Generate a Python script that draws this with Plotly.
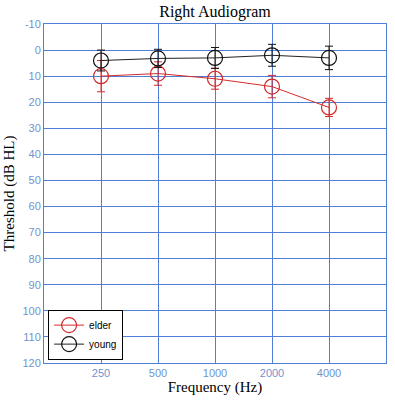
import plotly.graph_objects as go

freq_labels = ["250", "500", "1000", "2000", "4000"]
freq_pos = [1, 2, 3, 4, 5]
elder = [10, 9, 11, 14, 22]
elder_err = [6, 4.5, 4, 4.3, 3.5]
young = [4, 3.2, 3, 2, 3]
young_err = [4, 3.5, 4, 4.2, 4.5]
y_ticks = list(range(-10, 130, 10))
y_labels = [str(v).replace("\u2212", "-") for v in y_ticks]

red = "#d42a2a"
grid = "#4f7fd6"
tickc = "#7193d0"

fig = go.Figure()
fig.add_trace(go.Scatter(
    x=freq_pos, y=elder, name="elder", mode="lines+markers",
    line=dict(color=red, width=1),
    marker=dict(symbol="circle-open", size=15, color=red, line=dict(width=1.2)),
    error_y=dict(type="data", array=elder_err, color=red, thickness=1, width=4),
))
fig.add_trace(go.Scatter(
    x=freq_pos, y=young, name="young", mode="lines+markers",
    line=dict(color="#222222", width=1),
    marker=dict(symbol="circle-open", size=15, color="#111111", line=dict(width=1.2)),
    error_y=dict(type="data", array=young_err, color="#111111", thickness=1, width=4),
))

fig.update_layout(
    width=395, height=400,
    margin=dict(l=40, r=8, t=24, b=35),
    paper_bgcolor="white", plot_bgcolor="white",
    title=dict(text="Right Audiogram", xref="paper", x=0.5, xanchor="center",
               y=0.972, yanchor="middle",
               font=dict(family="Liberation Serif", size=16, color="black")),
    showlegend=True,
    legend=dict(x=0.012, y=0.01, xanchor="left", yanchor="bottom",
                bordercolor="black", borderwidth=1, bgcolor="white",
                font=dict(family="Liberation Sans", size=10, color="black"),
                tracegroupgap=0, itemwidth=30),
)
fig.update_xaxes(
    range=[0, 6], tickvals=freq_pos, ticktext=freq_labels,
    showgrid=True, gridcolor=grid, gridwidth=1,
    showline=True, linecolor=grid, linewidth=1, mirror=True,
    zeroline=False, ticks="",
    tickfont=dict(family="Liberation Sans", size=11, color=tickc),
    title=dict(text="Frequency (Hz)", standoff=2,
               font=dict(family="Liberation Serif", size=15, color="black")),
)
fig.update_yaxes(
    range=[120, -10], tickvals=y_ticks, ticktext=y_labels,
    showgrid=True, gridcolor=grid, gridwidth=1,
    showline=True, linecolor=grid, linewidth=1, mirror=True,
    zeroline=False, ticks="",
    tickfont=dict(family="Liberation Sans", size=11, color=tickc),
    title=dict(text="Threshold (dB HL)", standoff=4,
               font=dict(family="Liberation Serif", size=15, color="black")),
)

fig.write_html("out.html", config={"displayModeBar": False},
               post_script="document.body.style.margin='0';")
